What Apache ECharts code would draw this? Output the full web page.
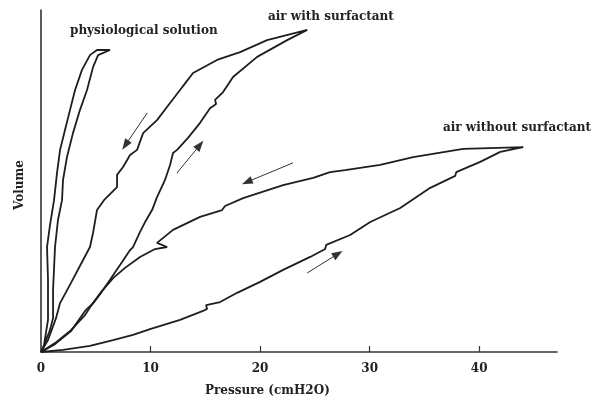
<!DOCTYPE html>
<html>
<head>
<meta charset="utf-8">
<script src="https://cdn.jsdelivr.net/npm/echarts@6/dist/echarts.min.js"></script>
<style>
  html, body { margin: 0; padding: 0; background: #fff; }
  #chart { width: 592px; height: 401px; }
</style>
</head>
<body>
<div id="chart"></div>
<script>
// pressure (cmH2O), volume (relative units 0-100)
const xTicks = [0, 10, 20, 30, 40];

const physioInflation = [
  [0, 0], [0.46, 3.5], [0.82, 6.4], [1.10, 9.9], [1.10, 18.1], [1.28, 30.7],
  [1.55, 38.6], [1.92, 44.4], [2.01, 50.3], [2.37, 57.0], [2.92, 64.0],
  [3.56, 70.8], [4.20, 76.6], [4.75, 83.3], [5.21, 86.8], [6.30, 88.3]
];
const physioDeflation = [
  [6.30, 88.3], [5.11, 88.3], [4.47, 86.8], [3.74, 82.5], [3.11, 76.6],
  [2.65, 70.8], [2.19, 64.9], [1.74, 59.1], [1.46, 52.3], [1.19, 44.4],
  [0.82, 37.1], [0.55, 30.7], [0.64, 21.1], [0.64, 9.4], [0.27, 2.0], [0, 0]
];

const surfInflation = [
  [0, 0], [1.28, 2.6], [2.74, 6.4], [4.02, 10.8], [4.57, 13.5], [5.48, 17.3],
  [6.30, 21.1], [7.40, 26.3], [8.13, 29.8], [8.40, 30.7], [9.04, 35.1],
  [9.50, 38.0], [10.14, 41.5], [10.59, 45.3], [11.32, 50.3], [11.78, 54.7],
  [12.05, 58.2], [12.42, 59.1], [13.42, 62.6], [14.52, 67.0], [15.43, 71.3],
  [15.98, 72.5], [15.89, 73.7], [16.62, 76.0], [17.53, 80.4], [19.73, 86.3],
  [22.47, 91.2], [24.30, 94.2]
];
const surfDeflation = [
  [24.30, 94.2], [20.64, 91.2], [18.17, 87.7], [16.07, 85.4], [13.88, 81.6],
  [13.24, 78.9], [12.69, 76.6], [11.78, 72.8], [10.59, 67.8], [9.32, 64.0],
  [8.77, 59.1], [8.13, 57.6], [7.49, 54.1], [6.94, 51.8], [6.94, 48.2],
  [5.75, 44.4], [5.11, 41.5], [4.75, 34.8], [4.47, 30.7], [3.84, 26.9],
  [2.74, 20.2], [1.74, 14.3], [1.37, 9.9], [0.64, 3.5], [0, 0]
];

const airInflation = [
  [0, 0], [2.01, 0.6], [4.47, 1.8], [6.58, 3.5], [8.40, 5.0], [9.95, 6.7],
  [12.69, 9.4], [14.79, 12.0], [15.16, 12.6], [15.07, 13.7], [16.35, 14.6],
  [17.90, 17.3], [20.00, 20.5], [22.10, 24.0], [24.57, 27.8], [25.94, 30.1],
  [26.03, 31.3], [28.22, 34.2], [30.05, 38.0], [32.79, 42.1], [35.53, 48.0],
  [37.81, 51.5], [37.90, 52.6], [40.09, 55.6], [41.92, 58.5], [44.02, 59.9]
];
const airDeflation = [
  [44.02, 59.9], [38.54, 59.4], [33.97, 57.0], [30.96, 54.7], [27.76, 53.2],
  [26.39, 52.6], [24.84, 50.9], [22.10, 48.8], [18.45, 45.0], [16.80, 42.7],
  [16.53, 41.5], [14.52, 39.5], [12.05, 35.7], [10.59, 31.9], [11.51, 30.7],
  [10.41, 30.1], [9.04, 27.8], [7.67, 24.6], [6.58, 21.6], [5.48, 17.5],
  [4.75, 14.3], [4.02, 12.0], [2.74, 6.1], [1.28, 2.3], [0, 0]
];

// direction arrows: [from, to]
const arrows = [
  [[9.7, 69.9], [7.7, 60.5]],
  [[12.4, 52.3], [14.5, 60.5]],
  [[23.0, 55.3], [18.8, 49.7]],
  [[24.3, 23.1], [27.1, 28.7]]
];

const serif = '"DejaVu Serif", "Liberation Serif", serif';

const loopSeries = (name, up, down) => ({
  name: name,
  type: 'line',
  data: up.concat(down.slice(1)),
  showSymbol: false,
  smooth: false,
  lineStyle: { color: '#1e1e1e', width: 1.8 },
  z: 3
});

const getOption = () => {
  return {
    animation: false,
    grid: { left: 41, right: 35, top: 10, bottom: 49 },
    xAxis: {
      type: 'value',
      min: 0,
      max: 47.1,
      interval: 10,
      splitLine: { show: false },
      axisLine: { lineStyle: { color: '#333', width: 1.6 } },
      axisTick: {
        inside: true, length: 6, customValues: [10, 20, 30, 40],
        lineStyle: { color: '#333', width: 1.2 }
      },
      axisLabel: {
        customValues: xTicks,
        formatter: v => (xTicks.indexOf(v) >= 0 ? String(v) : ''),
        color: '#222',
        fontFamily: serif,
        fontWeight: 'bold',
        fontSize: 12,
        margin: 11
      }
    },
    yAxis: {
      type: 'value',
      min: 0,
      max: 100,
      splitLine: { show: false },
      axisLine: { show: true, lineStyle: { color: '#333', width: 1.6 } },
      axisTick: { show: false },
      axisLabel: { show: false }
    },
    graphic: [
      { type: 'text', left: 70, top: 25, style: { text: 'physiological solution', font: 'bold 12px ' + serif, fill: '#222' } },
      { type: 'text', left: 268, top: 11, style: { text: 'air with surfactant', font: 'bold 12px ' + serif, fill: '#222' } },
      { type: 'text', left: 443, top: 122, style: { text: 'air without surfactant', font: 'bold 12px ' + serif, fill: '#222' } },
      { type: 'text', left: 205, top: 385, style: { text: 'Pressure (cmH2O)', font: 'bold 12px ' + serif, fill: '#222' } },
      {
        type: 'text', x: 20, y: 185, rotation: Math.PI / 2,
        style: { text: 'Volume', font: 'bold 12px ' + serif, fill: '#222', align: 'center', verticalAlign: 'middle' }
      }
    ],
    series: [
      loopSeries('physiological solution', physioInflation, physioDeflation),
      loopSeries('air with surfactant', surfInflation, surfDeflation),
      loopSeries('air without surfactant', airInflation, airDeflation),
      {
        name: 'arrows',
        type: 'line',
        data: [],
        markLine: {
          silent: true,
          animation: false,
          symbol: ['none', 'triangle'],
          symbolSize: [8, 11],
          label: { show: false },
          lineStyle: { color: '#333', width: 1, type: 'solid' },
          data: arrows.map(a => [{ coord: a[0] }, { coord: a[1] }])
        }
      }
    ]
  };
};

const initChart = () => {
  const chart = echarts.init(document.getElementById('chart'));
  chart.setOption(getOption());
};

window.addEventListener('load', () => {
  initChart();
});
</script>
</body>
</html>
